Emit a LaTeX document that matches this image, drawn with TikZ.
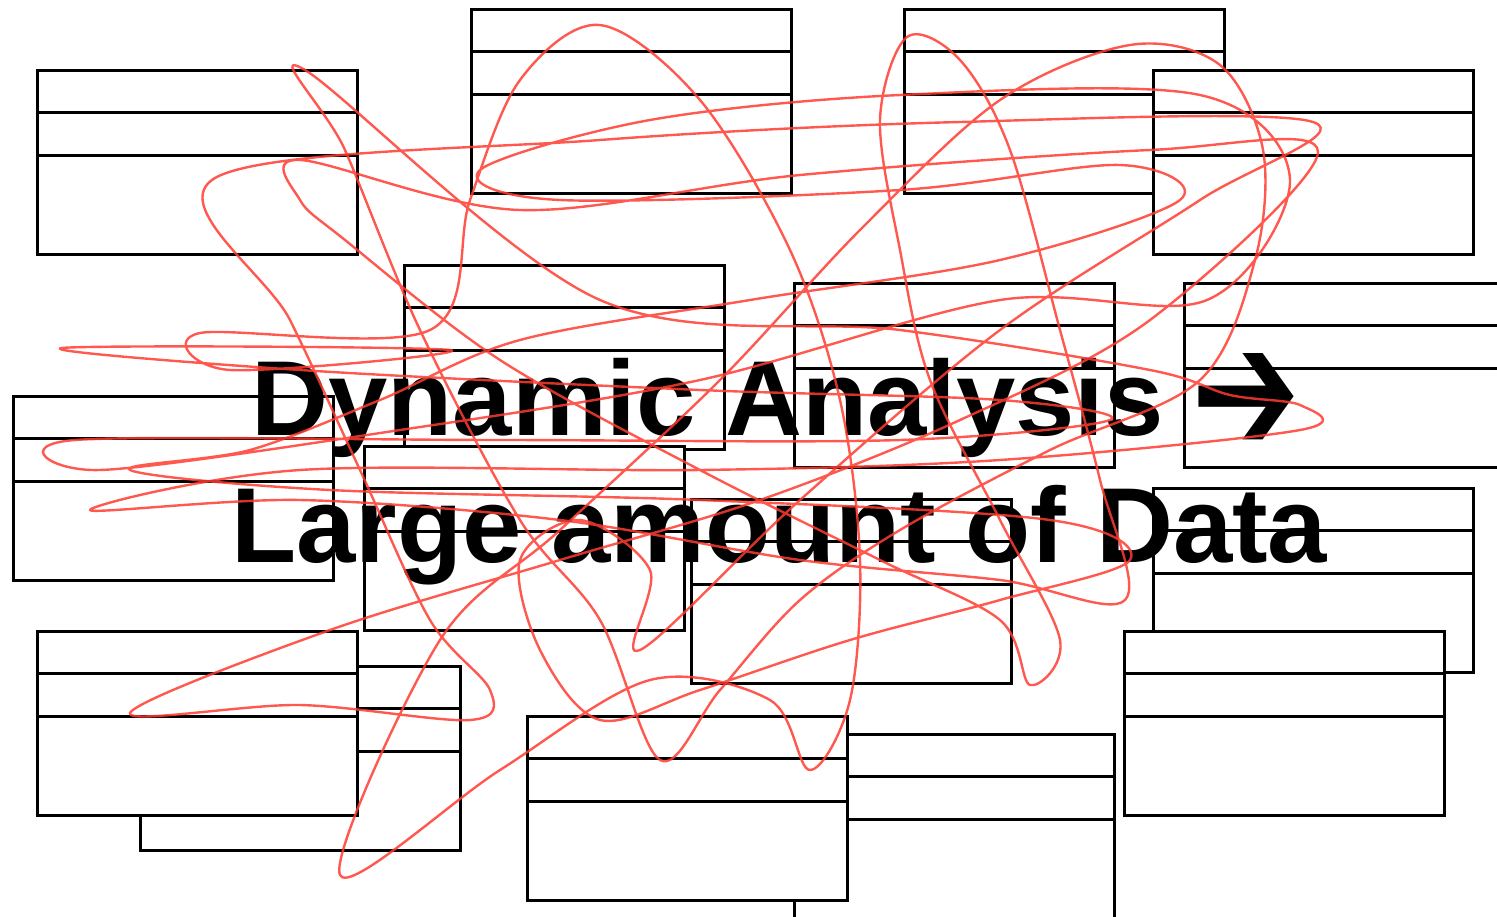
\documentclass[tikz,border=0pt]{standalone}
\usepackage{fontspec}
\setmainfont{Liberation Sans}
\newfontfamily\arrowfont{DejaVu Sans}

\tikzset{
  classbox/.style={draw=black, line width=1.5pt, fill=white},
  scribble/.style={draw={rgb,255:red,255;green,59;blue,48}, draw opacity=0.85,
    line width=1.2pt, line join=round},
  title/.style={font=\fontsize{53.3}{64}\selectfont\bfseries, inner sep=0pt, anchor=base west}
}

\begin{document}
\begin{tikzpicture}[x=0.5pt,y=-0.5pt]
\useasboundingbox (0,0) rectangle (1497,916);
\clip (0,0) rectangle (1497,916);

% class boxes, back ones first
\draw[classbox] (904,9) rectangle ++(320,184) (904,51) -- ++(320,0) (904,94) -- ++(320,0);
\draw[classbox] (1153,70) rectangle ++(320,184) (1153,112) -- ++(320,0) (1153,155) -- ++(320,0);
\draw[classbox] (37,70) rectangle ++(320,184) (37,112) -- ++(320,0) (37,155) -- ++(320,0);
\draw[classbox] (471,9) rectangle ++(320,184) (471,51) -- ++(320,0) (471,94) -- ++(320,0);
\draw[classbox] (404,265) rectangle ++(320,184) (404,307) -- ++(320,0) (404,350) -- ++(320,0);
\draw[classbox] (794,283) rectangle ++(320,184) (794,325) -- ++(320,0) (794,368) -- ++(320,0);
\draw[classbox] (1184,283) rectangle ++(320,184) (1184,325) -- ++(320,0) (1184,368) -- ++(320,0);
\draw[classbox] (13,396) rectangle ++(320,184) (13,438) -- ++(320,0) (13,481) -- ++(320,0);
\draw[classbox] (364,446) rectangle ++(320,184) (364,488) -- ++(320,0) (364,531) -- ++(320,0);
\draw[classbox] (691,499) rectangle ++(320,184) (691,541) -- ++(320,0) (691,584) -- ++(320,0);
\draw[classbox] (1153,488) rectangle ++(320,184) (1153,530) -- ++(320,0) (1153,573) -- ++(320,0);
\draw[classbox] (1124,631) rectangle ++(320,184) (1124,673) -- ++(320,0) (1124,716) -- ++(320,0);
\draw[classbox] (140,666) rectangle ++(320,184) (140,708) -- ++(320,0) (140,751) -- ++(320,0);
\draw[classbox] (37,631) rectangle ++(320,184) (37,673) -- ++(320,0) (37,716) -- ++(320,0);
\draw[classbox] (794,734) rectangle ++(320,184) (794,776) -- ++(320,0) (794,819) -- ++(320,0);
\draw[classbox] (527,716) rectangle ++(320,184) (527,758) -- ++(320,0) (527,801) -- ++(320,0);

% title
\node[title] (title1) at (251,435) {Dynamic Analysis\hspace{14pt}\raisebox{-9pt}[0pt][0pt]{\arrowfont\scalebox{1.22}[1.7]{➔}}};
\node[title] (title2) at (231,562) {Large amount of Data};

% scribble on top
\draw[scribble] plot[smooth cycle, tension=0.55] coordinates {
  (1313,122) (960,122) (600,140) (215,178) (290,320) (360,470) (430,620)
  (490,690) (470,720) (300,705) (130,713) (330,630) (560,560) (760,500)
  (960,420) (1150,320) (1318,152) (1150,150) (800,175) (520,210) (300,160)
  (300,200) (345,240) (500,360) (700,470) (880,560) (1000,620) (1030,685)
  (1060,640) (1000,520) (930,380) (900,250) (880,120) (907,37) (960,60)
  (1010,150) (1060,330) (1100,480) (1125,600) (1000,580) (800,560) (560,520)
  (300,500) (90,510) (300,470) (700,470) (1000,460) (1300,430) (1300,405)
  (1230,395) (1150,370) (900,330) (600,300) (305,70) (345,150) (420,330)
  (520,520) (600,620) (660,760) (720,690) (800,600) (900,530) (1050,450)
  (1200,380) (1255,260) (1263,150) (1220,65) (1130,45) (1000,100) (860,230)
  (720,380) (560,530) (440,640) (340,875) (500,770) (650,680) (770,700)
  (810,770) (850,700) (860,560) (840,400) (790,250) (700,100) (600,25)
  (520,80) (470,200) (430,330) (200,333) (230,370) (450,350) (62,348)
  (300,370) (700,390) (1000,400) (1110,420) (900,440) (500,440) (75,440)
  (100,470) (400,430) (700,380) (1000,300) (1207,300) (1290,180)
  (1200,95) (900,95) (650,120) (480,170) (560,200) (900,190) (1120,165)
  (1180,200) (1000,260) (750,300) (520,340) (380,400) (250,450) (130,470)
  (330,490) (700,500) (1050,520) (1130,560) (1000,600) (850,640) (700,690)
  (600,720) (540,650) (520,560) (580,520) (650,570) (640,650) (800,500)
  (1000,330) (1200,200)};
\end{tikzpicture}
\end{document}
